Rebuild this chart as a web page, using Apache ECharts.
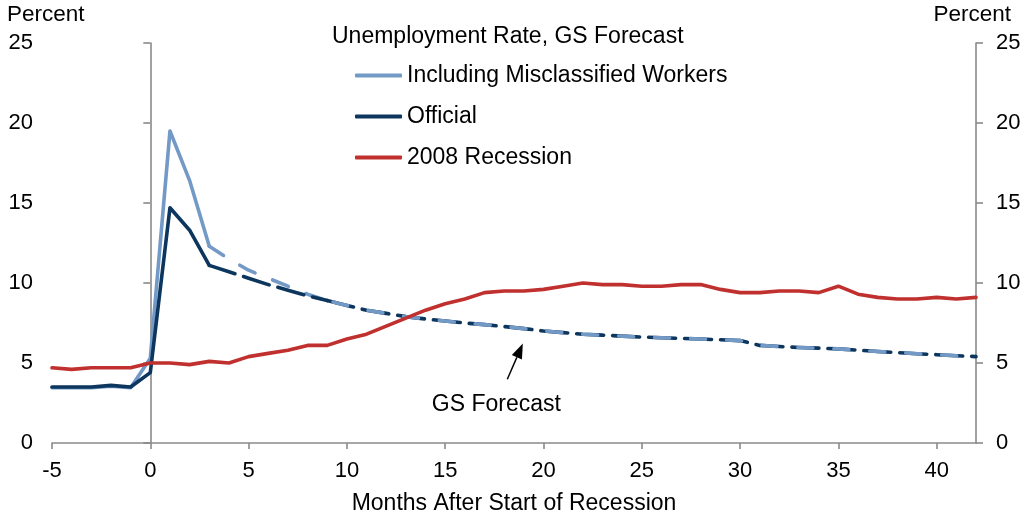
<!DOCTYPE html>
<html><head><meta charset="utf-8">
<script src="https://cdn.jsdelivr.net/npm/echarts@6/dist/echarts.min.js"></script>
<style>html,body{margin:0;padding:0;background:#fff}#c{width:1024px;height:516px}</style>
</head><body><div id="c"></div>
<script>
// ---- data ----
const months = [-5,-4,-3,-2,-1,0,1,2,3,4,5,6,7,8,9,10,11,12,13,14,15,16,17,18,19,20,21,22,23,24,25,26,27,28,29,30,31,32,33,34,35,36,37,38,39,40,41,42];
const actualMonths = [-5,-4,-3,-2,-1,0,1,2,3];
const officialActual = [3.5,3.5,3.5,3.6,3.5,4.4,14.7,13.3,11.1];
const misclassifiedActual = [3.45,3.45,3.45,3.55,3.45,5.3,19.5,16.4,12.3];
const forecastMonths = [3,4,5,6,7,8,9,10,11,12,13,14,15,16,17,18,19,20,21,22,23,24,25,26,27,28,29,30,31,32,33,34,35,36,37,38,39,40,41,42];
const officialForecast = [11.1,10.7,10.3,9.9,9.55,9.2,8.9,8.6,8.3,8.1,7.9,7.75,7.62,7.5,7.4,7.28,7.15,7.0,6.9,6.8,6.74,6.68,6.62,6.58,6.54,6.5,6.45,6.4,6.1,6.03,5.97,5.93,5.88,5.8,5.72,5.65,5.58,5.52,5.45,5.4];
const misclassifiedForecast = [12.3,11.5,10.8,10.3,9.8,9.3,8.9,8.6,8.3,8.1,7.9,7.75,7.62,7.5,7.4,7.28,7.15,7.0,6.9,6.8,6.74,6.68,6.62,6.58,6.54,6.5,6.45,6.4,6.1,6.03,5.97,5.93,5.88,5.8,5.72,5.65,5.58,5.52,5.45,5.4];
const recession2008 = [4.7,4.6,4.7,4.7,4.7,5.0,5.0,4.9,5.1,5.0,5.4,5.6,5.8,6.1,6.1,6.5,6.8,7.3,7.8,8.3,8.7,9.0,9.4,9.5,9.5,9.6,9.8,10.0,9.9,9.9,9.8,9.8,9.9,9.9,9.6,9.4,9.4,9.5,9.5,9.4,9.8,9.3,9.1,9.0,9.0,9.1,9.0,9.1];
const xTicks = {min:-5, max:42, interval:5};
const yTicks = {min:0, max:25, interval:5};
const legendNames = ['Including Misclassified Workers','Official','2008 Recession'];
const legendTitle = 'Unemployment Rate, GS Forecast';
const overlapStart = 9; // month from which both forecasts coincide
const annotation = {text:'GS Forecast', at:[17.6,2.4], from:[18.16,3.98], to:[18.95,6.22]};

// ---- styling ----
const FONT = "'Liberation Sans', Arial, sans-serif";
const LIGHT = '#7399C6', DARK = '#0C365E', RED = '#C0302E', AXIS = '#8a8a8a';
const LW = 3.6;
const FS = 23, TICK_FS = 22;

function pairs(xs, ys){ return xs.map((x,i)=>[x, ys[i]]); }
function range(xs, ys, a, b){ return pairs(xs, ys).filter(p=>p[0]>=a && p[0]<=b); }

const chart = echarts.init(document.getElementById('c'), null, {renderer:'canvas'});
const baseLine = (color, extra) => Object.assign({type:'solid', width:LW, color, cap:'round', join:'round'}, extra||{});

const axisCommon = {
  type:'value', min:yTicks.min, max:yTicks.max, interval:yTicks.interval,
  axisLine:{show:true, lineStyle:{color:AXIS, width:1.6}},
  axisTick:{show:true, length:7, lineStyle:{color:AXIS, width:1.6}},
  splitLine:{show:false},
  axisLabel:{fontSize:TICK_FS, color:'#000', fontFamily:FONT, margin:19}
};

const percentTexts = [
  {type:'text', left:7, top:3, style:{text:'Percent', font:'22.5px '+FONT, fill:'#000'}},
  {type:'text', right:13, top:3, style:{text:'Percent', font:'22.5px '+FONT, fill:'#000'}}
];

chart.setOption({
  animation:false,
  backgroundColor:'#fff',
  textStyle:{fontFamily:FONT},
  title:{text:legendTitle, left:332, top:25, padding:0, textStyle:{fontSize:FS, fontWeight:'normal', color:'#000', fontFamily:FONT}},
  legend:{data:legendNames, orient:'vertical', left:355, top:64, padding:0, itemWidth:47, itemHeight:4, itemGap:18, icon:'roundRect', selectedMode:false,
    textStyle:{fontSize:FS, color:'#000', fontFamily:FONT}},
  grid:{left:52, right:48, top:43, bottom:73, containLabel:false, outerBoundsMode:'none'},
  xAxis:{type:'value', min:xTicks.min, max:xTicks.max, interval:xTicks.interval,
    axisLine:{show:true, onZero:false, lineStyle:{color:AXIS, width:1.6}},
    axisTick:{show:true, length:6, lineStyle:{color:AXIS, width:1.6}},
    splitLine:{show:false},
    axisLabel:{fontSize:TICK_FS, color:'#000', fontFamily:FONT, margin:17, showMaxLabel:false},
    name:'Months After Start of Recession', nameLocation:'middle', nameGap:49,
    nameTextStyle:{fontSize:FS, color:'#000', fontFamily:FONT}},
  yAxis:[
    Object.assign({}, axisCommon, {position:'left'}),
    Object.assign({}, axisCommon, {position:'right', axisLabel:Object.assign({}, axisCommon.axisLabel, {margin:20})})
  ],
  graphic:percentTexts,
  series:[
    {name:legendNames[0], type:'line', symbol:'none', color:LIGHT, lineStyle:baseLine(LIGHT), data:pairs(actualMonths, misclassifiedActual), z:2},
    {name:legendNames[1], type:'line', symbol:'none', color:DARK, lineStyle:baseLine(DARK), data:pairs(actualMonths, officialActual), z:3},
    {name:'Official forecast a', type:'line', symbol:'none', color:DARK, lineStyle:baseLine(DARK,{type:[27,9]}), data:range(forecastMonths, officialForecast, 3, overlapStart), z:3},
    {name:'Misclassified forecast a', type:'line', symbol:'none', color:LIGHT, lineStyle:baseLine(LIGHT,{type:[17,19]}), data:range(forecastMonths, misclassifiedForecast, 3, overlapStart), z:2},
    {name:'Official forecast b', type:'line', symbol:'none', color:DARK, lineStyle:baseLine(DARK,{type:[27,9]}), data:range(forecastMonths, officialForecast, overlapStart, 42), z:3},
    {name:'Misclassified forecast b', type:'line', symbol:'none', color:LIGHT, lineStyle:baseLine(LIGHT,{type:[15,21], dashOffset:-6}), data:range(forecastMonths, misclassifiedForecast, overlapStart, 42), z:4},
    {name:legendNames[2], type:'line', symbol:'none', color:RED, lineStyle:baseLine(RED), data:pairs(months, recession2008), z:5}
  ]
});

// annotation arrow + label placed through the axes
const P = v => chart.convertToPixel({xAxisIndex:0, yAxisIndex:0}, v);
const a = P(annotation.from), b = P(annotation.to), t = P(annotation.at);
const dx = b[0]-a[0], dy = b[1]-a[1], L = Math.hypot(dx,dy);
const ux = dx/L, uy = dy/L, HL = 15, HW = 5.5;
const base = [b[0]-ux*HL, b[1]-uy*HL];
chart.setOption({graphic:percentTexts.concat([
  {type:'line', shape:{x1:a[0], y1:a[1], x2:base[0], y2:base[1]}, style:{stroke:'#000', lineWidth:1.5}, z:10},
  {type:'polygon', shape:{points:[b, [base[0]-uy*HW, base[1]+ux*HW], [base[0]+uy*HW, base[1]-ux*HW]]}, style:{fill:'#000'}, z:10},
  {type:'text', x:t[0], y:t[1], style:{text:annotation.text, font:FS+'px '+FONT, fill:'#000', align:'center', verticalAlign:'middle'}, z:10}
])}, {replaceMerge:['graphic']});
</script>
</body></html>
